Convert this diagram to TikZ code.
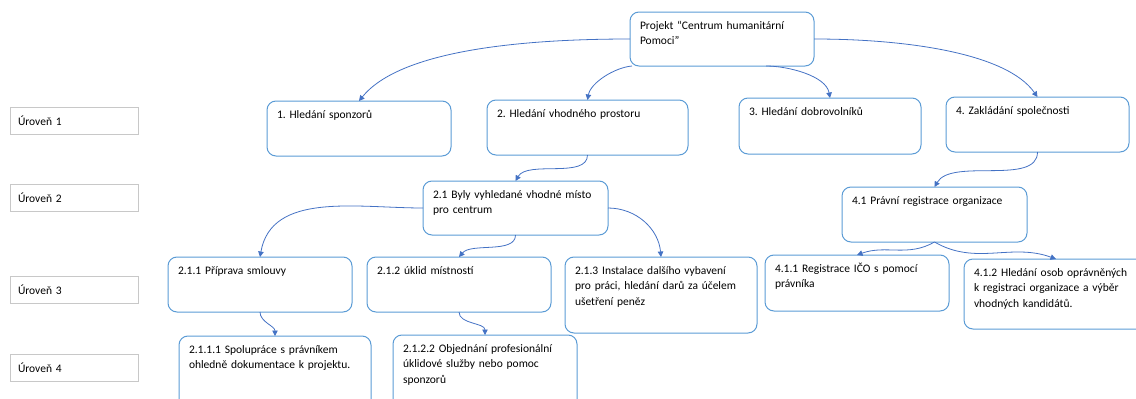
\documentclass[tikz,border=0pt]{standalone}
\usepackage{fontspec}
\setmainfont{Carlito}
\usetikzlibrary{arrows.meta}
\frenchspacing

\definecolor{ramecek}{RGB}{91,155,213}
\definecolor{sipka}{RGB}{68,114,196}
\definecolor{seda}{RGB}{200,200,200}

\tikzset{
    blok/.style={draw=ramecek, line width=1pt, rounded corners=9pt, anchor=north west,
        outer sep=0pt, inner xsep=10pt, inner ysep=0pt, align=left, text height=17pt,
        font=\fontsize{11.5}{15.7}\selectfont, text=black},
    uroven/.style={draw=seda, line width=1pt, anchor=north west, outer sep=0pt,
        inner xsep=8pt, text width=112pt, minimum height=27pt, align=left,
        font=\fontsize{11.5}{15.7}\selectfont, text=black},
    spoj/.style={draw=sipka, line width=0.8pt, -{Triangle[length=5.5pt,width=5.5pt]}}
}

\begin{document}
\begin{tikzpicture}[x=1pt, y=-1pt]
            \useasboundingbox (0,0) rectangle (1136,399);
            \clip (0,0) rectangle (1136,399);

            \node[uroven] (u1) at (10,107) {Úroveň 1};
            \node[uroven] (u2) at (10,184) {Úroveň 2};
            \node[uroven] (u3) at (10,276) {Úroveň 3};
            \node[uroven] (u4) at (10,354) {Úroveň 4};

            \node[blok, text width=164pt, text depth=37pt] (root) at (630,12) {Projekt “Centrum humanitární\\Pomoci”};

            \node[blok, text width=164pt, text depth=38pt] (p1) at (267,101) {1. Hledání sponzorů};
            \node[blok, text width=181pt, text depth=38pt] (p2) at (487,100) {2. Hledání vhodného prostoru};
            \node[blok, text width=162pt, text depth=39pt] (p3) at (739,98) {3. Hledání dobrovolníků};
            \node[blok, text width=163pt, text depth=38pt] (p4) at (946,97) {4. Zakládání společnosti};

            \node[blok, text width=165pt, text depth=37pt] (p21) at (423,181) {2.1 Byly vyhledané vhodné místo\\pro centrum};
            \node[blok, text width=165pt, text depth=38pt] (p41) at (842,187) {4.1 Právní registrace organizace};

            \node[blok, text width=164pt, text depth=38pt] (p211) at (168,257) {2.1.1 Příprava smlouvy};
            \node[blok, text width=164pt, text depth=38pt] (p212) at (367,257) {2.1.2 úklid místností};
            \node[blok, text width=172pt, text depth=59pt] (p213) at (565,257) {2.1.3 Instalace dalšího vybavení\\pro práci, hledání darů za účelem\\ušetření peněz};
            \node[blok, text width=164pt, text depth=39pt] (p411) at (765,255) {4.1.1 Registrace IČO s pomocí\\právníka};
            \node[blok, text width=164pt, text depth=53pt] (p412) at (964,259) {4.1.2 Hledání osob oprávněných\\k registraci organizace a výběr\\vhodných kandidátů.};

            \node[blok, text width=172pt, text depth=59pt] (p2111) at (179,336) {2.1.1.1 Spolupráce s právníkem\\ohledně dokumentace k projektu.};
            \node[blok, text width=164pt, text depth=59pt] (p2122) at (393,335) {2.1.2.2 Objednání profesionální\\úklidové služby nebo pomoc\\sponzorů};

            \draw[spoj] (root.west) to[out=180,in=51,in looseness=0.6] (p1.north);
            \draw[spoj] ([xshift=2pt]root.south west) to[out=185,in=80,looseness=0.8] (p2.north);
            \draw[spoj] ([xshift=44pt]root.south) to[out=0,in=100,looseness=0.8] (p3.north);
            \draw[spoj] (root.east) to[out=0,in=125,in looseness=0.6] (p4.north);

            \draw[spoj] (p2.south) to[out=-90,in=60,looseness=0.8] (p21.north);
            \draw[spoj] (p4.south) to[out=-90,in=60,looseness=0.8] (p41.north);

            \draw[spoj] (p21.west) to[out=180,in=80] (p211.north);
            \draw[spoj] (p21.south) to[out=-90,in=50,looseness=0.8] (p212.north);
            \draw[spoj] (p21.east) to[out=0,in=95] (p213.north);
            \draw[spoj] (p41.south) to[out=-150,in=20] (p411.north);
            \draw[spoj] (p41.south) to[out=-30,in=160] (p412.north);

            \draw[spoj] (p211.south) to[out=-90,in=90,looseness=0.9] (p2111.north);
            \draw[spoj] (p212.south) to[out=-90,in=90,looseness=0.9] (p2122.north);

        \end{tikzpicture}
\end{document}
